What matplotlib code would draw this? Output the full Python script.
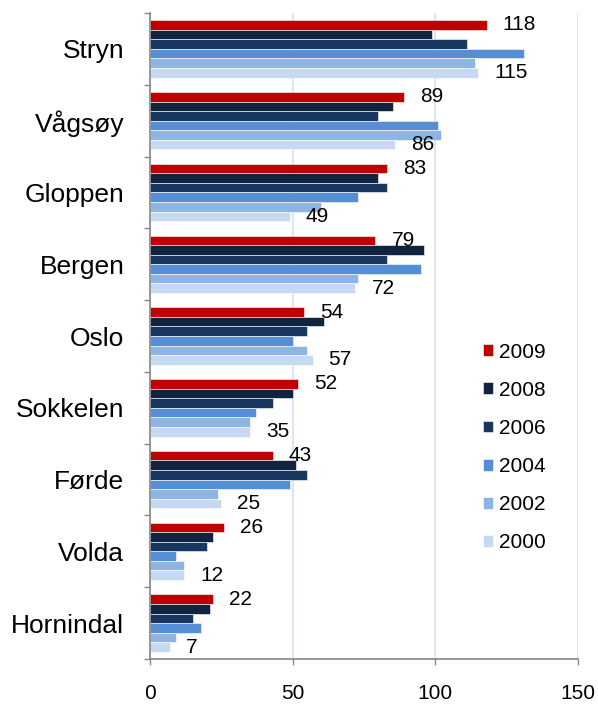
# -*- coding: utf-8 -*-
import numpy as np
import matplotlib
matplotlib.use('Agg')
import matplotlib.pyplot as plt

plt.rcParams['font.family'] = ['Liberation Sans', 'DejaVu Sans']

# data
steder = ['Stryn', 'Vågsøy', 'Gloppen', 'Bergen', 'Oslo',
          'Sokkelen', 'Førde', 'Volda', 'Hornindal']
aar = ['2009', '2008', '2006', '2004', '2002', '2000']
v2009 = [118, 89, 83, 79, 54, 52, 43, 26, 22]
v2008 = [99, 85, 80, 96, 61, 50, 51, 22, 21]
v2006 = [111, 80, 83, 83, 55, 43, 55, 20, 15]
v2004 = [131, 101, 73, 95, 50, 37, 49, 9, 18]
v2002 = [114, 102, 60, 73, 55, 35, 24, 12, 9]
v2000 = [115, 86, 49, 72, 57, 35, 25, 12, 7]
serier = [v2009, v2008, v2006, v2004, v2002, v2000]
farger = ['#C00000', '#10243F', '#17375E', '#558ED5', '#8EB4E3', '#C6D9F1']

fig = plt.figure(figsize=(5.98, 7.04), dpi=100)
ax = fig.add_axes([0.2508, 0.0639, 0.7158, 0.9176])

y = np.arange(len(steder))
h = 0.8 / 6
for i, (verdier, farge, navn) in enumerate(zip(serier, farger, aar)):
    pos = y + (i - 2.5) * h
    ax.barh(pos, verdier, height=h, color=farge, label=navn,
            edgecolor='white', linewidth=0.4, zorder=3)
    # verdiene vises bare for 2009 og 2000
    if navn in ('2009', '2000'):
        for p, v in zip(pos, verdier):
            ax.annotate(str(v), (v, p), xytext=(11.5, 0),
                        textcoords='offset points', ha='left', va='center',
                        fontsize=15, color='black', zorder=4)

ax.set_xlim(0, 150)
ax.set_ylim(len(steder) - 0.5, -0.5)
ax.set_xticks([0, 50, 100, 150])
ax.set_yticks(y)
ax.set_yticklabels(steder, fontsize=19)
ax.set_yticks(np.arange(-0.5, len(steder)), minor=True)

ax.tick_params(axis='y', which='major', length=0, pad=18.5)
ax.tick_params(axis='y', which='minor', length=4, width=1, color='#868686', direction='out')
ax.tick_params(axis='x', length=4, width=1, color='#868686', direction='out',
               labelsize=15, pad=14)

ax.grid(axis='x', color='#D9E3F1', linewidth=1.3, zorder=0)
for s in ['top', 'right']:
    ax.spines[s].set_visible(False)
for s in ['left', 'bottom']:
    ax.spines[s].set_color('#868686')
    ax.spines[s].set_linewidth(1.2)
    ax.spines[s].set_zorder(5)

ax.legend(loc='center left', bbox_to_anchor=(483 / 598, 1 - 447.5 / 704),
          bbox_transform=fig.transFigure, frameon=False, fontsize=15,
          handlelength=0.5, handleheight=0.5, handletextpad=0.25,
          labelspacing=0.92, borderpad=0, borderaxespad=0)

fig.savefig('out.png', dpi=100)
